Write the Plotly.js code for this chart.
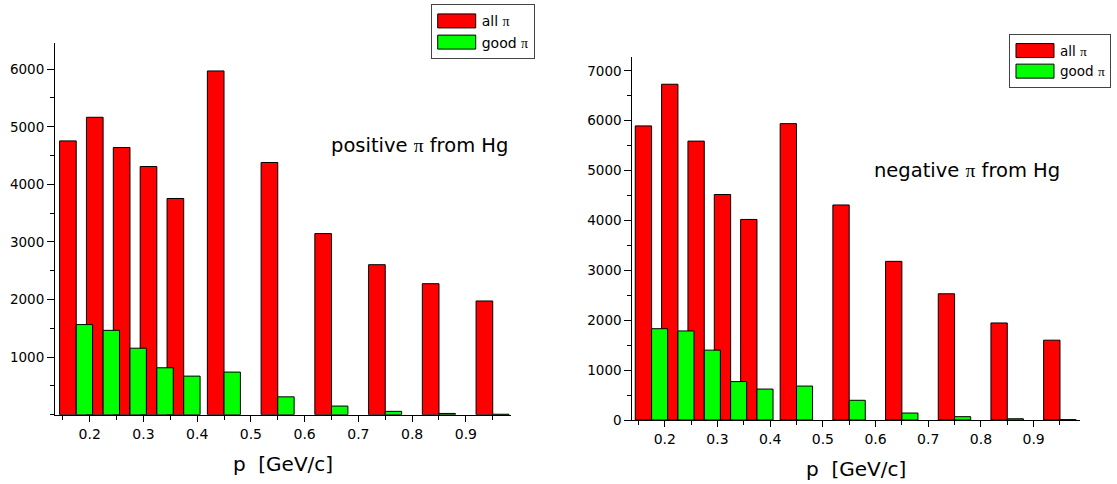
<!DOCTYPE html>
<html>
<head>
<meta charset="utf-8">
<script src="https://cdn.plot.ly/plotly-3.0.1.min.js"></script>
<style>html,body{margin:0;padding:0;background:#fff;}#chart{width:1117px;height:484px;}</style>
</head>
<body>
<div id="chart"></div>
<script>
// momentum bin centres [GeV/c]
const p = [0.175, 0.225, 0.275, 0.325, 0.375, 0.45, 0.55, 0.65, 0.75, 0.85, 0.95];
// positive pions from Hg
const posAll  = [4755, 5165, 4640, 4310, 3755, 5970, 4380, 3145, 2605, 2275, 1975];
const posGood = [1565, 1465, 1155, 815, 670, 740, 310, 150, 58, 22, 8];
// negative pions from Hg
const negAll  = [5895, 6730, 5590, 4520, 4020, 5940, 4310, 3180, 2530, 1945, 1600];
const negGood = [1830, 1785, 1400, 770, 620, 680, 395, 140, 67, 25, 7];
const xTicks = [0.2, 0.3, 0.4, 0.5, 0.6, 0.7, 0.8, 0.9];
const xTickText = ['0.2', '0.3', '0.4', '0.5', '0.6', '0.7', '0.8', '0.9'];
const yTicksLeft = [1000, 2000, 3000, 4000, 5000, 6000];
const yTicksRight = [0, 1000, 2000, 3000, 4000, 5000, 6000, 7000];

const FONT = 'DejaVu Sans, Arial, sans-serif';
const PI = '<span style="font-family:Liberation Serif">\u03c0</span>';
const RED = '#ff0000', GREEN = '#00ff00';

function bars(name, y, color, xa, ya, off, w, legend) {
  return {
    type: 'bar', name: name, x: p, y: y,
    xaxis: xa, yaxis: ya, offset: off, width: w,
    marker: {color: color, line: {color: '#000', width: 1}},
    legend: legend, showlegend: true, hoverinfo: 'x+y'
  };
}

const data = [
  bars('all ' + PI, posAll, RED, 'x', 'y', -0.031, 0.031, 'legend'),
  bars('good ' + PI, posGood, GREEN, 'x', 'y', 0, 0.0305, 'legend'),
  bars('all ' + PI, negAll, RED, 'x2', 'y2', -0.031, 0.031, 'legend2'),
  bars('good ' + PI, negGood, GREEN, 'x2', 'y2', 0, 0.0305, 'legend2')
];

function xaxis(domain, range, anchor) {
  return {
    domain: domain, range: range, anchor: anchor,
    tickmode: 'array', tickvals: xTicks, ticktext: xTickText,
    ticks: 'outside', ticklen: 6, tickwidth: 1, tickcolor: '#000',
    minor: {tickmode: 'linear', tick0: 0.15, dtick: 0.05, ticks: 'outside', ticklen: 4, tickcolor: '#000', tickwidth: 1},
    showline: true, linecolor: '#000', linewidth: 1, showgrid: false, zeroline: false,
    tickfont: {family: FONT, size: 14, color: '#000'},
    title: {text: 'p  [GeV/c]', font: {family: FONT, size: 20, color: '#000'}, standoff: 16}
  };
}
function yaxis(domain, range, anchor, vals) {
  return {
    domain: domain, range: range, anchor: anchor,
    tickmode: 'array', tickvals: vals, ticktext: vals.map(String),
    ticks: 'outside', ticklen: 7, tickwidth: 1, tickcolor: '#000',
    minor: {tickmode: 'linear', tick0: 0, dtick: 500, ticks: 'outside', ticklen: 4, tickcolor: '#000', tickwidth: 1},
    showline: true, linecolor: '#000', linewidth: 1, showgrid: false, zeroline: false,
    tickfont: {family: FONT, size: 13.5, color: '#000'}
  };
}

const layout = {
  width: 1117, height: 484,
  margin: {l: 0, r: 0, t: 0, b: 0},
  paper_bgcolor: '#fff', plot_bgcolor: '#fff',
  barmode: 'overlay',
  xaxis: xaxis([0.04924, 0.45748], [0.1355, 0.984], 'y'),
  yaxis: yaxis([0.14318, 0.91054], [0, 6450], 'x', yTicksLeft),
  xaxis2: xaxis([0.56607, 0.96688], [0.1384, 0.988], 'y2'),
  yaxis2: yaxis([0.13223, 0.88161], [0, 7270], 'x2', yTicksRight),
  legend: {x: 0.3856, y: 0.9911, xanchor: 'left', yanchor: 'top',
           bgcolor: '#fff', bordercolor: '#444', borderwidth: 1,
           font: {family: FONT, size: 14, color: '#000'}, tracegroupgap: 0, itemwidth: 40},
  legend2: {x: 0.9033, y: 0.9291, xanchor: 'left', yanchor: 'top',
            bgcolor: '#fff', bordercolor: '#444', borderwidth: 1,
            font: {family: FONT, size: 13.5, color: '#000'}, tracegroupgap: 0, itemwidth: 40},
  annotations: [
    {text: 'positive ' + PI + ' from Hg', xref: 'paper', yref: 'paper', x: 0.376, y: 0.7004,
     xanchor: 'center', yanchor: 'middle', showarrow: false, font: {family: FONT, size: 19.5, color: '#000'}},
    {text: 'negative ' + PI + ' from Hg', xref: 'paper', yref: 'paper', x: 0.8653, y: 0.6467,
     xanchor: 'center', yanchor: 'middle', showarrow: false, font: {family: FONT, size: 19.5, color: '#000'}}
  ]
};

Plotly.newPlot('chart', data, layout, {displayModeBar: false, staticPlot: true}).then(function (gd) {
  // enlarge legend swatches to the wide rectangular style of the original
  gd.querySelectorAll('.legendpoints path').forEach(function (el) {
    el.setAttribute('d', 'M19,7H-19V-7H19Z');
  });
});
</script>
</body>
</html>
